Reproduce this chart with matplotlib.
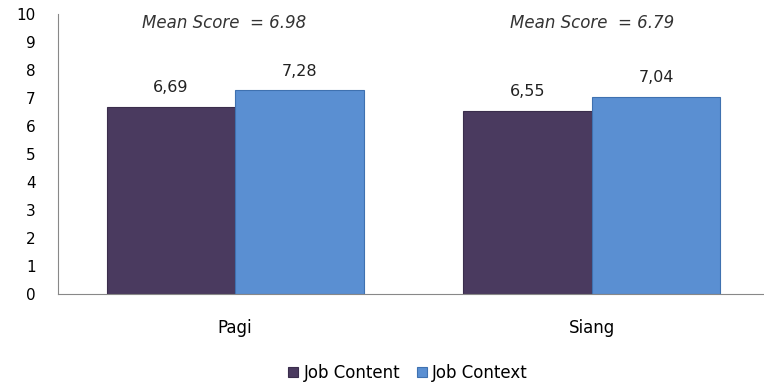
import matplotlib
matplotlib.use("Agg")
import matplotlib.pyplot as plt
import numpy as np

categories = ["Pagi", "Siang"]
job_content = [6.69, 6.55]
job_context = [7.28, 7.04]
mean_scores = ["6.98", "6.79"]
yticks = list(range(0, 11))

W, H = 764, 383
fig = plt.figure(figsize=(W / 100, H / 100), dpi=100)
ax = fig.add_axes([58 / W, 1 - 294 / H, (764 - 58) / W, (294 - 14) / H])

x = np.arange(len(categories))
bw = 0.36
c1, c2 = "#4a3a5f", "#5a8fd2"
b1 = ax.bar(x - bw / 2, job_content, bw, color=c1, edgecolor="#3a2d4c", linewidth=0.8, label="Job Content")
b2 = ax.bar(x + bw / 2, job_context, bw, color=c2, edgecolor="#3f71b0", linewidth=0.8, label="Job Context")

for bars, vals in ((b1, job_content), (b2, job_context)):
    for r, v in zip(bars, vals):
        ax.text(r.get_x() + r.get_width() / 2, v + 0.68, f"{v:.2f}".replace(".", ","),
                ha="center", va="center", fontsize=11.5, color="#222222")

mean_x = [-0.03, 0.0]
for xi, m, dx in zip(x, mean_scores, mean_x):
    ax.text(xi + dx, 9.68, f"Mean Score  = {m}", ha="center", va="center",
            fontsize=12, style="italic", color="#333333")

ax.set_xlim(-0.496, 1.482)
ax.set_ylim(0, 10)
ax.set_yticks(yticks)
ax.set_yticklabels([str(t) for t in yticks], fontsize=11)
ax.set_xticks(x)
ax.set_xticklabels(categories, fontsize=12)
ax.tick_params(axis="y", length=0, pad=16)
ax.tick_params(axis="x", length=0, pad=18)
for s in ("top", "right"):
    ax.spines[s].set_visible(False)
ax.spines["left"].set_color("#888888")
ax.spines["bottom"].set_color("#888888")

fig.legend(handles=[b1, b2], loc="center", bbox_to_anchor=(408 / W, 1 - 373 / H), ncol=2,
           frameon=False, fontsize=12, handlelength=0.6, handleheight=0.6,
           handletextpad=0.3, columnspacing=1.0)

fig.savefig("out.png", dpi=100)
